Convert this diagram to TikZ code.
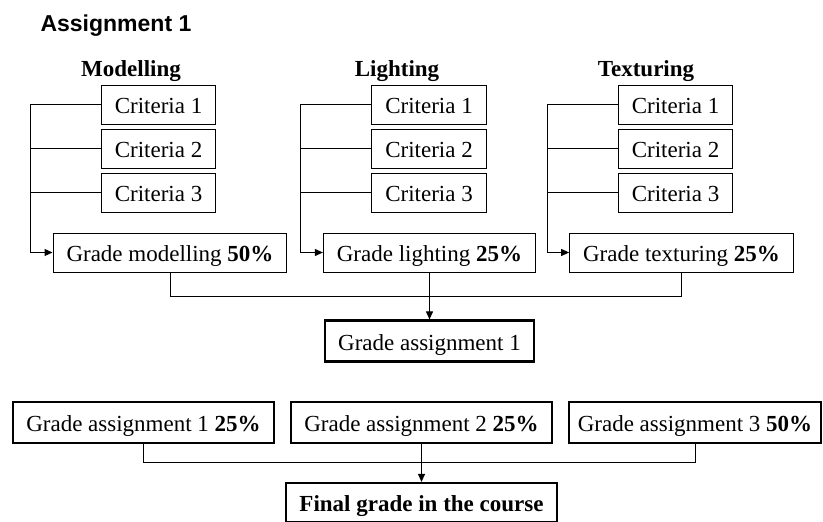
\documentclass[tikz,border=0pt]{standalone}
\usepackage{fontspec}
\setmainfont{Liberation Serif}
\newfontfamily\titlefont{Liberation Sans}
\usetikzlibrary{arrows.meta}
\tikzset{
  box/.style={draw, line width=1pt, inner xsep=13.5pt, inner ysep=0pt,
    text height=18pt, text depth=0pt, font=\fontsize{23}{27}\selectfont},
  crit/.style={box, minimum width=110pt, minimum height=39pt},
  grade/.style={box, minimum height=39pt},
  total/.style={box, line width=2.2pt, minimum height=41pt},
  head/.style={anchor=base, font=\fontsize{23}{27}\selectfont\bfseries},
  link/.style={line width=1pt},
  arr/.style={link, -{Triangle[length=8pt,width=7pt]}},
}
\begin{document}
\begin{tikzpicture}[x=1pt,y=-1pt]
\useasboundingbox (0,0) rectangle (823,522);

\node[anchor=base west, font=\titlefont\fontsize{23}{27}\selectfont\bfseries] (title) at (37,31) {Assignment 1};

% modelling
\node[head] (mhead) at (131,76) {Modelling};
\node[crit] (mc1) at (158.5,104.5) {Criteria 1};
\node[crit] (mc2) at (158.5,148.5) {Criteria 2};
\node[crit] (mc3) at (158.5,192.5) {Criteria 3};
\node[grade] (gmod) at (170,252.5) {Grade modelling \textbf{50\%}};
\coordinate (mbus) at ([xshift=-22pt]gmod.west);
\draw[arr] (mc1.west) -| (mbus) -- (gmod.west);
\draw[link] (mc2.west) -- (mc2.west -| mbus);
\draw[link] (mc3.west) -- (mc3.west -| mbus);

% lighting
\node[head] (lhead) at (397,76) {Lighting};
\node[crit] (lc1) at (429,104.5) {Criteria 1};
\node[crit] (lc2) at (429,148.5) {Criteria 2};
\node[crit] (lc3) at (429,192.5) {Criteria 3};
\node[grade] (glig) at (429.5,252.5) {Grade lighting \textbf{25\%}};
\coordinate (lbus) at ([xshift=-22pt]glig.west);
\draw[arr] (lc1.west) -| (lbus) -- (glig.west);
\draw[link] (lc2.west) -- (lc2.west -| lbus);
\draw[link] (lc3.west) -- (lc3.west -| lbus);

% texturing
\node[head] (thead) at (646,76) {Texturing};
\node[crit] (tc1) at (675.5,104.5) {Criteria 1};
\node[crit] (tc2) at (675.5,148.5) {Criteria 2};
\node[crit] (tc3) at (675.5,192.5) {Criteria 3};
\node[grade] (gtex) at (681.5,252.5) {Grade texturing \textbf{25\%}};
\coordinate (tbus) at ([xshift=-22pt]gtex.west);
\draw[arr] (tc1.west) -| (tbus) -- (gtex.west);
\draw[link] (tc2.west) -- (tc2.west -| tbus);
\draw[link] (tc3.west) -- (tc3.west -| tbus);

% assignment grade
\node[total] (ga1) at (429.5,341) {Grade assignment 1};
\coordinate (join1) at (429,296);
\draw[link] (gmod.south) |- (gtex.south |- join1) -- (gtex.south);
\draw[arr] (glig.south) -- (glig.south |- ga1.north);

% course grade
\node[total] (ba1) at (143.5,422.5) {Grade assignment 1 \textbf{25\%}};
\node[total] (ba2) at (421.5,422.5) {Grade assignment 2 \textbf{25\%}};
\node[total, inner xsep=9pt] (ba3) at (695,422.5) {Grade assignment 3 \textbf{50\%}};
\node[total, minimum height=39pt] (final) at (421.5,502.5) {\textbf{Final grade in the course}};
\coordinate (join2) at (423,462);
\draw[link] (ba1.south) |- (ba3.south |- join2) -- (ba3.south);
\draw[arr] (ba2.south) -- (ba2.south |- final.north);
\end{tikzpicture}
\end{document}
